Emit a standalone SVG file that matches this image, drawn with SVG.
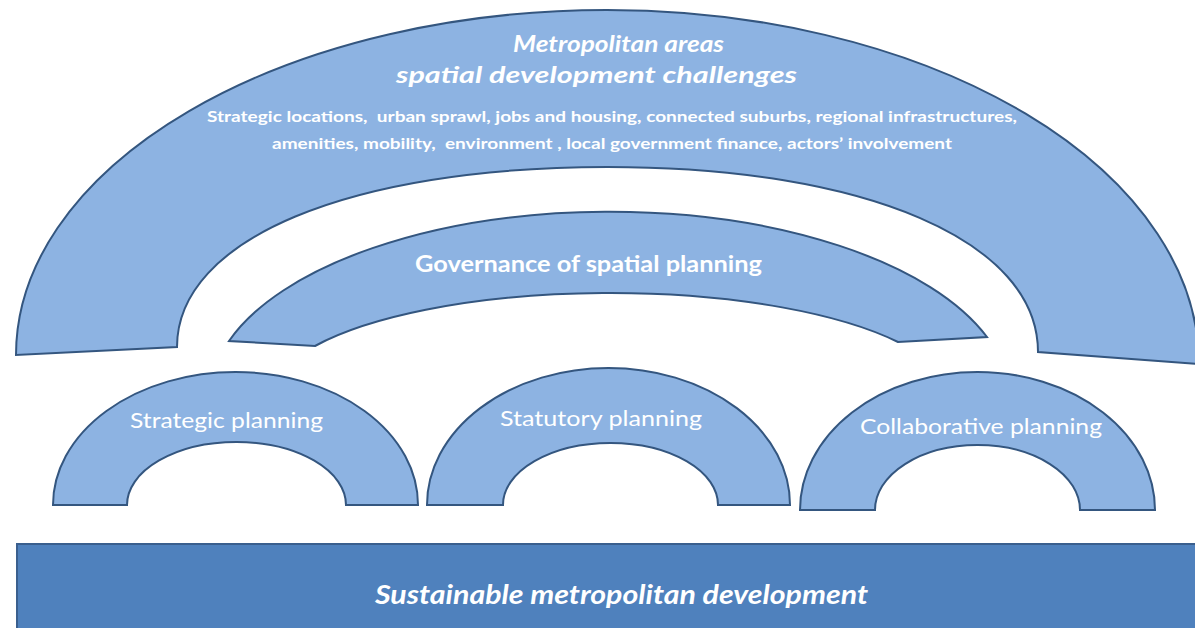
<svg xmlns="http://www.w3.org/2000/svg" width="1195" height="628" viewBox="0 0 1195 628">
  <style>
    .arch { fill: #8DB3E2; stroke: #34567F; stroke-width: 2; stroke-linejoin: miter; }
    .base { fill: #4F81BD; stroke: #3A5F8E; stroke-width: 2; }
    .t { fill: #FFFFFF; font-family: Lato, "Open Sans", "Liberation Sans", sans-serif; white-space: pre; }
    .bi { font-weight: bold; font-style: italic; }
    .b { font-weight: bold; }
  </style>
  <rect width="1195" height="628" fill="#FFFFFF"/>

  <g id="challenges">
    <path class="arch" d="M 16 355 A 591 345 0 0 1 607 10 A 592 354 0 0 1 1199 364 L 1038 352 C 1038 241 865.8 167 607.5 167 C 349.2 167 177 239 177 347 Z"/>
    <text class="t bi" x="513" y="52" font-size="22" textLength="211" lengthAdjust="spacingAndGlyphs">Metropolitan areas</text>
    <text class="t bi" x="396" y="83" font-size="22" textLength="401" lengthAdjust="spacingAndGlyphs">spatial development challenges</text>
    <text class="t b" x="207" y="122" font-size="15" textLength="810" lengthAdjust="spacingAndGlyphs">Strategic locations,  urban sprawl, jobs and housing, connected suburbs, regional infrastructures,</text>
    <text class="t b" x="272" y="149" font-size="15" textLength="680" lengthAdjust="spacingAndGlyphs">amenities, mobility,  environment , local government finance, actors’ involvement</text>
  </g>

  <g id="governance">
    <path class="arch" d="M 229 341 A 400 187 0 0 1 987 337 L 898 342 A 340 105 0 0 0 315 346 Z"/>
    <text class="t b" x="415" y="272" font-size="22" textLength="347" lengthAdjust="spacingAndGlyphs">Governance of spatial planning</text>
  </g>

  <g id="strategic">
    <path class="arch" d="M 53 505 A 182.5 133 0 0 1 418 505 L 346 505 A 109.5 63 0 0 0 127 505 Z"/>
    <text class="t" x="130" y="428" font-size="22" textLength="193" lengthAdjust="spacingAndGlyphs">Strategic planning</text>
  </g>

  <g id="statutory">
    <path class="arch" d="M 427 505 A 181.5 137 0 0 1 790 505 L 718 505 A 107.5 62 0 0 0 503 505 Z"/>
    <text class="t" x="500" y="426" font-size="22" textLength="202" lengthAdjust="spacingAndGlyphs">Statutory planning</text>
  </g>

  <g id="collaborative">
    <path class="arch" d="M 800 510 A 177.5 138 0 0 1 1155 510 L 1080 510 A 102.5 65 0 0 0 875 510 Z"/>
    <text class="t" x="860" y="434" font-size="22" textLength="242" lengthAdjust="spacingAndGlyphs">Collaborative planning</text>
  </g>

  <g id="sustainable">
    <rect class="base" x="17" y="544" width="1190" height="100"/>
    <text class="t bi" x="375" y="604" font-size="27" textLength="493" lengthAdjust="spacingAndGlyphs">Sustainable metropolitan development</text>
  </g>

  <g id="connectors"></g>
</svg>
